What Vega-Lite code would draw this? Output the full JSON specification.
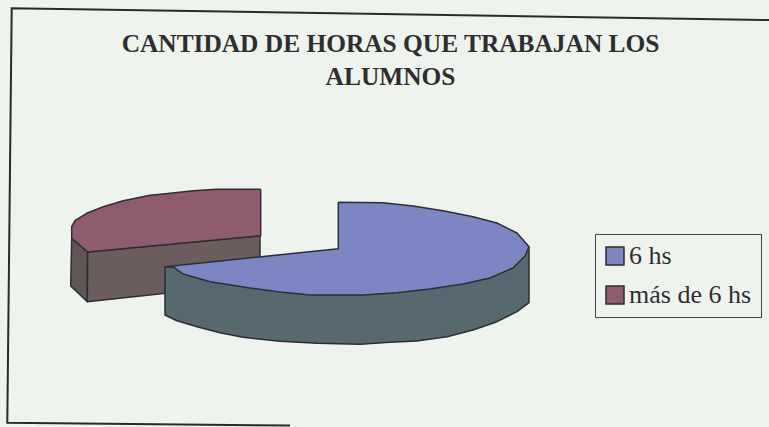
{
"$schema":"https://vega.github.io/schema/vega-lite/v6.json",
"width":769,"height":427,"padding":0,"autosize":"none",
"background":"#eff3ee",
"config":{"view":{"stroke":null}},
"title":{"text":["CANTIDAD DE HORAS QUE TRABAJAN LOS","ALUMNOS"],"anchor":"middle","frame":"group","font":"Liberation Serif","fontSize":25.4,"fontWeight":"bold","color":"#2e2e2e","lineHeight":33,"dx":6,"dy":90,"offset":0},
"datasets":{
"marco":[
{"linea":"marco","i":1,"x":769,"y":20},
{"linea":"marco","i":2,"x":11.7,"y":8.3},
{"linea":"marco","i":3,"x":7.3,"y":422.7},
{"linea":"marco","i":4,"x":290,"y":425.5}
],
"torta":[
{"parte":"lado izq. más de 6 hs","i":1,"x":71.7,"y":238.3},
{"parte":"lado izq. más de 6 hs","i":2,"x":87.7,"y":252},
{"parte":"lado izq. más de 6 hs","i":3,"x":87.3,"y":301.7},
{"parte":"lado izq. más de 6 hs","i":4,"x":70.7,"y":286},
{"parte":"lado izq. más de 6 hs","i":5,"x":71.7,"y":238.3},
{"parte":"lado más de 6 hs","i":1,"x":87.7,"y":252},
{"parte":"lado más de 6 hs","i":2,"x":260,"y":235.7},
{"parte":"lado más de 6 hs","i":3,"x":260,"y":283},
{"parte":"lado más de 6 hs","i":4,"x":87.3,"y":301.7},
{"parte":"lado más de 6 hs","i":5,"x":87.7,"y":252},
{"parte":"más de 6 hs","i":1,"x":260.7,"y":189.3},
{"parte":"más de 6 hs","i":2,"x":216.7,"y":189.3},
{"parte":"más de 6 hs","i":3,"x":193.3,"y":190.7},
{"parte":"más de 6 hs","i":4,"x":163.3,"y":194},
{"parte":"más de 6 hs","i":5,"x":150,"y":195.3},
{"parte":"más de 6 hs","i":6,"x":123.3,"y":200.7},
{"parte":"más de 6 hs","i":7,"x":103.3,"y":206.7},
{"parte":"más de 6 hs","i":8,"x":86.7,"y":213.3},
{"parte":"más de 6 hs","i":9,"x":75,"y":220.7},
{"parte":"más de 6 hs","i":10,"x":71.7,"y":226.7},
{"parte":"más de 6 hs","i":11,"x":71.7,"y":238.3},
{"parte":"más de 6 hs","i":12,"x":87.7,"y":252},
{"parte":"más de 6 hs","i":13,"x":260.7,"y":235.7},
{"parte":"más de 6 hs","i":14,"x":260.7,"y":189.3},
{"parte":"lado 6 hs","i":1,"x":529,"y":246.7},
{"parte":"lado 6 hs","i":2,"x":529,"y":302.7},
{"parte":"lado 6 hs","i":3,"x":517,"y":311.7},
{"parte":"lado 6 hs","i":4,"x":497,"y":321.7},
{"parte":"lado 6 hs","i":5,"x":473,"y":330},
{"parte":"lado 6 hs","i":6,"x":447,"y":336.7},
{"parte":"lado 6 hs","i":7,"x":417,"y":341},
{"parte":"lado 6 hs","i":8,"x":390,"y":342.3},
{"parte":"lado 6 hs","i":9,"x":360,"y":344.3},
{"parte":"lado 6 hs","i":10,"x":317,"y":343.3},
{"parte":"lado 6 hs","i":11,"x":280,"y":341.3},
{"parte":"lado 6 hs","i":12,"x":243,"y":337.3},
{"parte":"lado 6 hs","i":13,"x":220,"y":332.7},
{"parte":"lado 6 hs","i":14,"x":197,"y":326.7},
{"parte":"lado 6 hs","i":15,"x":177,"y":320.7},
{"parte":"lado 6 hs","i":16,"x":165,"y":315},
{"parte":"lado 6 hs","i":17,"x":165,"y":266.7},
{"parte":"lado 6 hs","i":18,"x":173,"y":266.7},
{"parte":"lado 6 hs","i":19,"x":529,"y":246.7},
{"parte":"6 hs","i":1,"x":338.3,"y":202.3},
{"parte":"6 hs","i":2,"x":383,"y":202.7},
{"parte":"6 hs","i":3,"x":413,"y":206},
{"parte":"6 hs","i":4,"x":443,"y":210.7},
{"parte":"6 hs","i":5,"x":473,"y":216.7},
{"parte":"6 hs","i":6,"x":497,"y":223},
{"parte":"6 hs","i":7,"x":517,"y":233},
{"parte":"6 hs","i":8,"x":529,"y":246.7},
{"parte":"6 hs","i":9,"x":525,"y":256},
{"parte":"6 hs","i":10,"x":513,"y":268},
{"parte":"6 hs","i":11,"x":490,"y":278},
{"parte":"6 hs","i":12,"x":463,"y":284},
{"parte":"6 hs","i":13,"x":430,"y":289},
{"parte":"6 hs","i":14,"x":397,"y":292.7},
{"parte":"6 hs","i":15,"x":363,"y":295},
{"parte":"6 hs","i":16,"x":310,"y":295},
{"parte":"6 hs","i":17,"x":280,"y":292},
{"parte":"6 hs","i":18,"x":250,"y":288},
{"parte":"6 hs","i":19,"x":210,"y":281.7},
{"parte":"6 hs","i":20,"x":183,"y":274},
{"parte":"6 hs","i":21,"x":173,"y":266.7},
{"parte":"6 hs","i":22,"x":165,"y":266.7},
{"parte":"6 hs","i":23,"x":338.3,"y":248.7},
{"parte":"6 hs","i":24,"x":338.3,"y":202.3}
]},
"layer":[
{"data":{"name":"marco"},
 "mark":{"type":"line","stroke":"#2a2a2a","strokeWidth":2},
 "encoding":{
  "x":{"field":"x","type":"quantitative","axis":null,"scale":{"domain":[0,769]}},
  "y":{"field":"y","type":"quantitative","axis":null,"scale":{"domain":[427,0]}},
  "order":{"field":"i"}}},
{"data":{"name":"torta"},
 "mark":{"type":"line","stroke":"#2d2d33","strokeWidth":1.5,"strokeJoin":"round"},
 "encoding":{
  "x":{"field":"x","type":"quantitative","axis":null,"scale":{"domain":[0,769]}},
  "y":{"field":"y","type":"quantitative","axis":null,"scale":{"domain":[427,0]}},
  "order":{"field":"i"},
  "detail":{"field":"parte"},
  "fill":{"field":"parte","type":"nominal","sort":null,
   "scale":{"domain":["6 hs","más de 6 hs","lado 6 hs","lado más de 6 hs","lado izq. más de 6 hs"],"range":["#7b86c3","#8e5c6e","#56696f","#6b5d5e","#625556"]},
   "legend":{"values":["6 hs","más de 6 hs"],"title":null,"orient":"none","legendX":595,"legendY":234,"symbolType":"square","symbolSize":324,"symbolStrokeColor":"#2d2d33","symbolStrokeWidth":1.5,"labelFont":"Liberation Serif","labelFontSize":26,"labelColor":"#2e2e2e","labelLimit":200,"strokeColor":"#444444","padding":9,"rowPadding":13,"labelOffset":1,"symbolOffset":-2,"fillColor":"#eff3ee"}}}}
]}
